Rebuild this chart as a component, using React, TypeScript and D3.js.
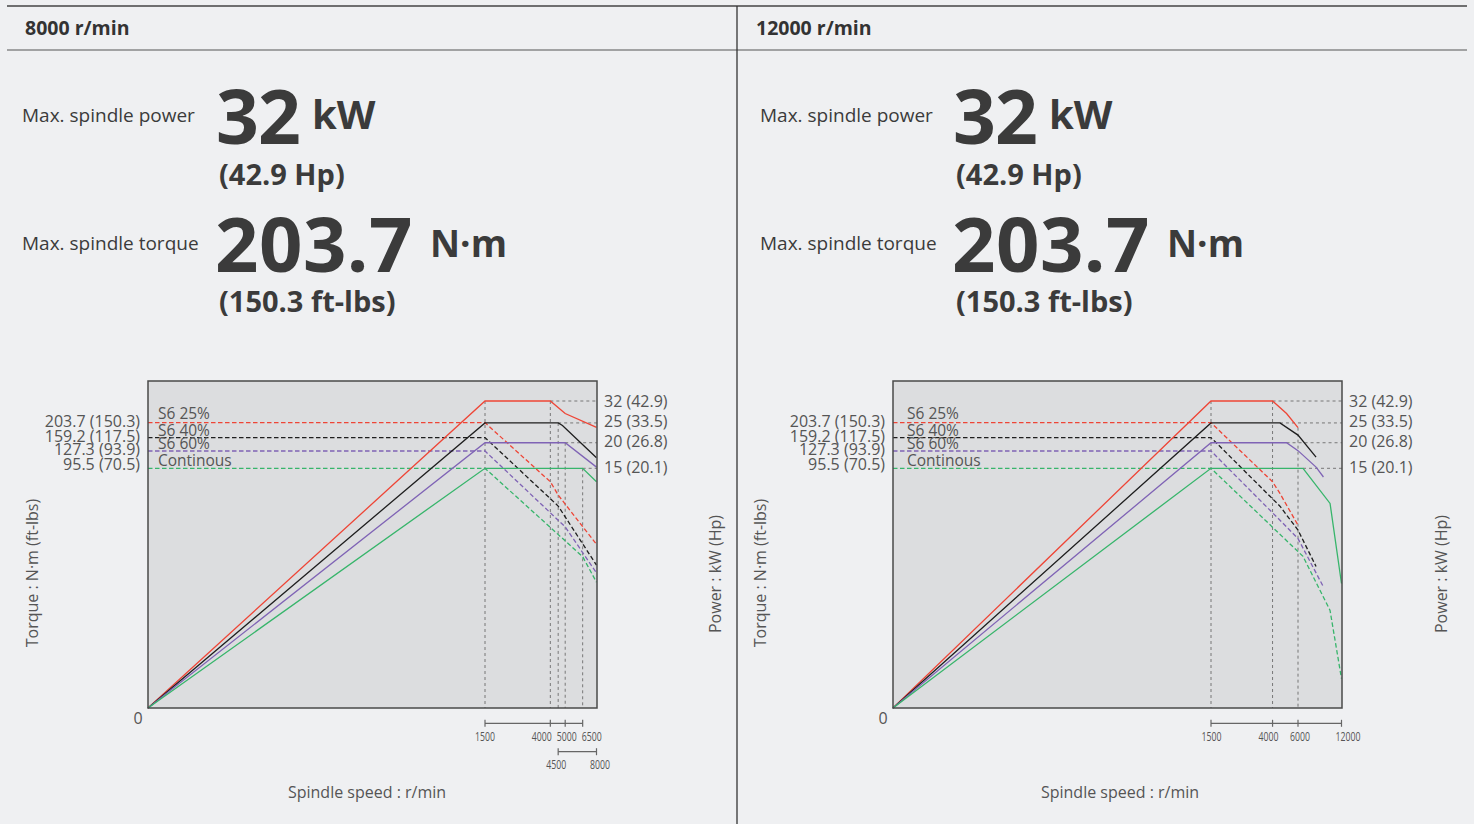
import React from 'react';
import * as d3 from 'd3';

type Pt = [number, number];

// ---------- DATA ----------
const panelTitles = ['8000 r/min', '12000 r/min'];
const powerLabel = 'Max. spindle power';
const torqueLabel = 'Max. spindle torque';
const maxPowerValue = '32';
const maxPowerUnit = 'kW';
const maxPowerHp = '(42.9 Hp)';
const maxTorqueValue = '203.7';
const maxTorqueUnit = 'N·m';
const maxTorqueFtLbs = '(150.3 ft-lbs)';

const seriesNames = ['S6 25%', 'S6 40%', 'S6 60%', 'Continous'];
const seriesColors = ['#ee4536', '#1e1e1e', '#7f63b5', '#37b56b'];

const BASE_RPM = 1500;
const torqueTicks = [203.7, 159.2, 127.3, 95.5];
const torqueTickLabels = ['203.7 (150.3)', '159.2 (117.5)', '127.3 (93.9)', '95.5 (70.5)'];
const powerTicks = [32, 25, 20, 15];
const powerTickLabels = ['32 (42.9)', '25 (33.5)', '20 (26.8)', '15 (20.1)'];

// 8000 r/min spindle: power (kW) vs speed
const p8_s625: Pt[] = [[0, 0], [1500, 32], [4000, 32], [5000, 27.8], [8000, 23.8]];
const p8_s640: Pt[] = [[0, 0], [1500, 25], [4500, 25], [4800, 24.3], [8000, 16.9]];
const p8_s660: Pt[] = [[0, 0], [1500, 20], [5000, 20], [8000, 15.2]];
const p8_cont: Pt[] = [[0, 0], [1500, 15], [6500, 15], [8000, 12.9]];
// 8000 r/min spindle: torque (N·m) vs speed
const t8_s625: Pt[] = [[0, 203.7], [1500, 203.7], [4000, 76.4], [4500, 61.2], [8000, 27.0]];
const t8_s640: Pt[] = [[0, 159.2], [1500, 159.2], [4500, 51.0], [8000, 19.1]];
const t8_s660: Pt[] = [[0, 127.3], [1500, 127.3], [5000, 36.1], [8000, 16.8]];
const t8_cont: Pt[] = [[0, 95.5], [1500, 95.5], [6500, 22.0], [8000, 14.4]];

// 12000 r/min spindle: power (kW)
const p12_s625: Pt[] = [[0, 0], [1500, 32], [4000, 32], [5000, 27.8], [6000, 23.7]];
const p12_s640: Pt[] = [[0, 0], [1500, 25], [4500, 25], [6000, 21.8], [8000, 17.0]];
const p12_s660: Pt[] = [[0, 0], [1500, 20], [5000, 20], [6000, 18.3], [8000, 15.2], [9000, 13.6]];
const p12_cont: Pt[] = [[0, 0], [1500, 15], [6500, 15], [10000, 10.1], [12000, 4.1]];
// 12000 r/min spindle: torque (N·m)
const t12_s625: Pt[] = [[0, 203.7], [1500, 203.7], [4000, 76.4], [4500, 62.9], [6000, 37.1]];
const t12_s640: Pt[] = [[0, 159.2], [1500, 159.2], [4500, 50.9], [6000, 34.2], [8000, 18.7]];
const t12_s660: Pt[] = [[0, 127.3], [1500, 127.3], [5000, 36.1], [6000, 29.7], [9000, 13.3]];
const t12_cont: Pt[] = [[0, 95.5], [1500, 95.5], [6500, 22.1], [10000, 9.0], [12000, 2.9]];

// guide lines: vertical [rpm, kW top], horizontal [kW, from rpm]
const v8: Pt[] = [[1500, 32], [4000, 32], [4500, 25], [5000, 20], [6500, 15]];
const h8: Pt[] = [[32, 4000], [25, 4500], [20, 5000], [15, 6500]];
const v12: Pt[] = [[1500, 32], [4000, 32], [6000, 23.7]];
const h12: Pt[] = [[32, 4000], [25, 4500], [20, 5000], [15, 6500]];

const ticks8Row1 = [1500, 4000, 5000, 6500];
const ticks8Row2 = [4500, 8000];
const ticks12Row1 = [1500, 4000, 6000, 12000];

// ---------- LAYOUT ----------
const SANS = "'Open Sans', 'Noto Sans', sans-serif";
const BG = '#eff0f2';
const TEXT = '#3b3b3b';
const AXIS_TEXT = '#555';

const BOX_TOP = 381;
const BOX_BOTTOM = 708;

// horizontal nudges of tick labels (px) so they do not collide
const nudge8Row1 = [0, -8.5, 1.5, 9];
const nudge8Row2 = [-2, 3.5];
const nudge12Row1 = [0.5, -4, 2, 6.5];

const charts = [
  {
    title: panelTitles[0], maxRpm: 8000,
    power: [p8_s625, p8_s640, p8_s660, p8_cont],
    torque: [t8_s625, t8_s640, t8_s660, t8_cont],
    vGuides: v8, hGuides: h8, rows: [ticks8Row1, ticks8Row2], nudges: [nudge8Row1, nudge8Row2],
    L: { tx: 0, x0: 148, xBase: 485, xEnd: 596.5, x1: 597, s6x: 158, torqueTitleX: 32, powerTitleX: 715, speedX: 367, labelX: 22, titleX: 25 },
  },
  {
    title: panelTitles[1], maxRpm: 12000,
    power: [p12_s625, p12_s640, p12_s660, p12_cont],
    torque: [t12_s625, t12_s640, t12_s660, t12_cont],
    vGuides: v12, hGuides: h12, rows: [ticks12Row1], nudges: [nudge12Row1],
    L: { tx: 737, x0: 893, xBase: 1211, xEnd: 1341.5, x1: 1342, s6x: 907, torqueTitleX: 760, powerTitleX: 1441, speedX: 1120, labelX: 760, titleX: 756 },
  },
];

const yPowerLog = d3.scaleLog().domain([15, 32]).range([468.3, 401]);
const yPower = (v: number) => (v <= 0 ? BOX_BOTTOM : yPowerLog(v));
const yTorque = d3.scaleLog().domain([95.5, 203.7]).range([468.3, 422.7]);

function Chart({ c }: { c: (typeof charts)[number] }) {
  const L = c.L;
  const lin = d3.scaleLinear().domain([0, BASE_RPM]).range([L.x0, L.xBase]);
  const lg = d3.scaleLog().domain([BASE_RPM, c.maxRpm]).range([L.xBase, L.xEnd]);
  const x = (v: number) => (v <= BASE_RPM ? lin(v) : lg(v));
  const powerLine = d3.line<Pt>().x((d) => x(d[0])).y((d) => yPower(d[1]));
  const torqueLine = d3.line<Pt>().x((d) => x(d[0])).y((d) => yTorque(d[1]));
  const rowY = [723.3, 751.7];

  const tx = L.tx;
  return (
    <g>
      {/* header text */}
      <text x={L.titleX} y={35} fontFamily={SANS} fontWeight={700} fontSize={19.5} fill="#333">{c.title}</text>
      <text x={L.labelX} y={122} fontFamily={SANS} fontSize={19} fill={TEXT}>{powerLabel}</text>
      <text x={216 + tx} y={144} fontFamily={SANS} fontWeight={700} fontSize={75} fill={TEXT} letterSpacing={-1}>{maxPowerValue}</text>
      <text x={312 + tx} y={129} fontFamily={SANS} fontWeight={700} fontSize={40} fill={TEXT}>{maxPowerUnit}</text>
      <text x={219 + tx} y={185} fontFamily={SANS} fontWeight={700} fontSize={29} fill={TEXT}>{maxPowerHp}</text>
      <text x={L.labelX} y={250} fontFamily={SANS} fontSize={19} fill={TEXT}>{torqueLabel}</text>
      <text x={215 + tx} y={272} fontFamily={SANS} fontWeight={700} fontSize={76} fill={TEXT} letterSpacing={0.5}>{maxTorqueValue}</text>
      <text x={430 + tx} y={257} fontFamily={SANS} fontWeight={700} fontSize={37} fill={TEXT}>{maxTorqueUnit}</text>
      <text x={219 + tx} y={312} fontFamily={SANS} fontWeight={700} fontSize={29} fill={TEXT}>{maxTorqueFtLbs}</text>

      {/* plot box */}
      <rect x={L.x0} y={BOX_TOP} width={L.x1 - L.x0} height={BOX_BOTTOM - BOX_TOP} fill="#dcdddf" />

      {/* guides */}
      {c.vGuides.map((g, i) => (
        <line key={'v' + i} x1={x(g[0])} x2={x(g[0])} y1={yPower(g[1])} y2={BOX_BOTTOM} stroke="#777" strokeWidth={1} strokeDasharray="3 3" />
      ))}
      {c.hGuides.map((g, i) => (
        <line key={'h' + i} x1={x(g[1])} x2={L.x1} y1={yPower(g[0])} y2={yPower(g[0])} stroke="#777" strokeWidth={1} strokeDasharray="3 3" />
      ))}

      {/* torque (dashed) */}
      {c.torque.map((s, i) => (
        <path key={'t' + i} d={torqueLine(s) || ''} fill="none" stroke={seriesColors[i]} strokeWidth={1.3} strokeDasharray="4.5 2.5" />
      ))}
      {/* power (solid) */}
      {c.power.map((s, i) => (
        <path key={'p' + i} d={powerLine(s) || ''} fill="none" stroke={seriesColors[i]} strokeWidth={1.3} />
      ))}

      <rect x={L.x0} y={BOX_TOP} width={L.x1 - L.x0} height={BOX_BOTTOM - BOX_TOP} fill="none" stroke="#4a4a4a" strokeWidth={1.5} />

      {/* series labels */}
      {seriesNames.map((n, i) => (
        <text key={'s' + i} x={L.s6x} y={[419, 435.5, 448.5, 466][i]} fontFamily={SANS} fontSize={15.5} fill={AXIS_TEXT}>{n}</text>
      ))}

      {/* torque tick labels */}
      {torqueTicks.map((t, i) => (
        <text key={'tt' + i} x={L.x0 - 8} y={[421.5, 436, 449.5, 464.5][i]} dy="0.35em" textAnchor="end" fontFamily={SANS} fontSize={16} fill={AXIS_TEXT}>{torqueTickLabels[i]}</text>
      ))}
      {/* power tick labels */}
      {powerTicks.map((p, i) => (
        <text key={'pt' + i} x={L.x1 + 7} y={[401.5, 421.5, 441.5, 467][i]} dy="0.35em" fontFamily={SANS} fontSize={16} fill={AXIS_TEXT}>{powerTickLabels[i]}</text>
      ))}
      <text x={L.x0 - 10} y={718} dy="0.35em" textAnchor="middle" fontFamily={SANS} fontSize={16} fill={AXIS_TEXT}>0</text>

      {/* x brackets */}
      {c.rows.map((row, ri) => (
        <g key={'r' + ri}>
          <line x1={x(row[0])} x2={x(row[row.length - 1])} y1={rowY[ri]} y2={rowY[ri]} stroke="#666" strokeWidth={1.2} />
          {row.map((v, vi) => {
            const label = String(v);
            return (
              <g key={v}>
                <line x1={x(v)} x2={x(v)} y1={rowY[ri] - 3.5} y2={rowY[ri] + 3.5} stroke="#666" strokeWidth={1.2} />
                <text x={x(v) + c.nudges[ri][vi]} y={rowY[ri] + 17.5} textAnchor="middle" fontFamily={SANS} fontSize={13}
                  textLength={label.length * 5} lengthAdjust="spacingAndGlyphs" fill={AXIS_TEXT}>{label}</text>
              </g>
            );
          })}
        </g>
      ))}

      {/* axis titles */}
      <text transform={`translate(${L.torqueTitleX},573) rotate(-90)`} textAnchor="middle" dy="0.35em" fontFamily={SANS} fontSize={16} fill={AXIS_TEXT}>Torque : N·m (ft-lbs)</text>
      <text transform={`translate(${L.powerTitleX},574) rotate(-90)`} textAnchor="middle" dy="0.35em" fontFamily={SANS} fontSize={16} fill={AXIS_TEXT}>Power : kW (Hp)</text>
      <text x={L.speedX} y={798} textAnchor="middle" fontFamily={SANS} fontSize={16} fill={AXIS_TEXT}>Spindle speed : r/min</text>
    </g>
  );
}

export default function App() {
  return (
    <svg width={1474} height={824} style={{ position: 'absolute', left: 0, top: 0, display: 'block' }}>
      <rect x={0} y={0} width={1474} height={824} fill={BG} />
      <line x1={7} x2={1467} y1={6} y2={6} stroke="#444" strokeWidth={1.5} />
      <line x1={7} x2={1467} y1={50} y2={50} stroke="#555" strokeWidth={1.2} />
      <line x1={737} x2={737} y1={6} y2={824} stroke="#333" strokeWidth={1.3} />
      {charts.map((c, i) => (
        <Chart key={i} c={c} />
      ))}
    </svg>
  );
}
